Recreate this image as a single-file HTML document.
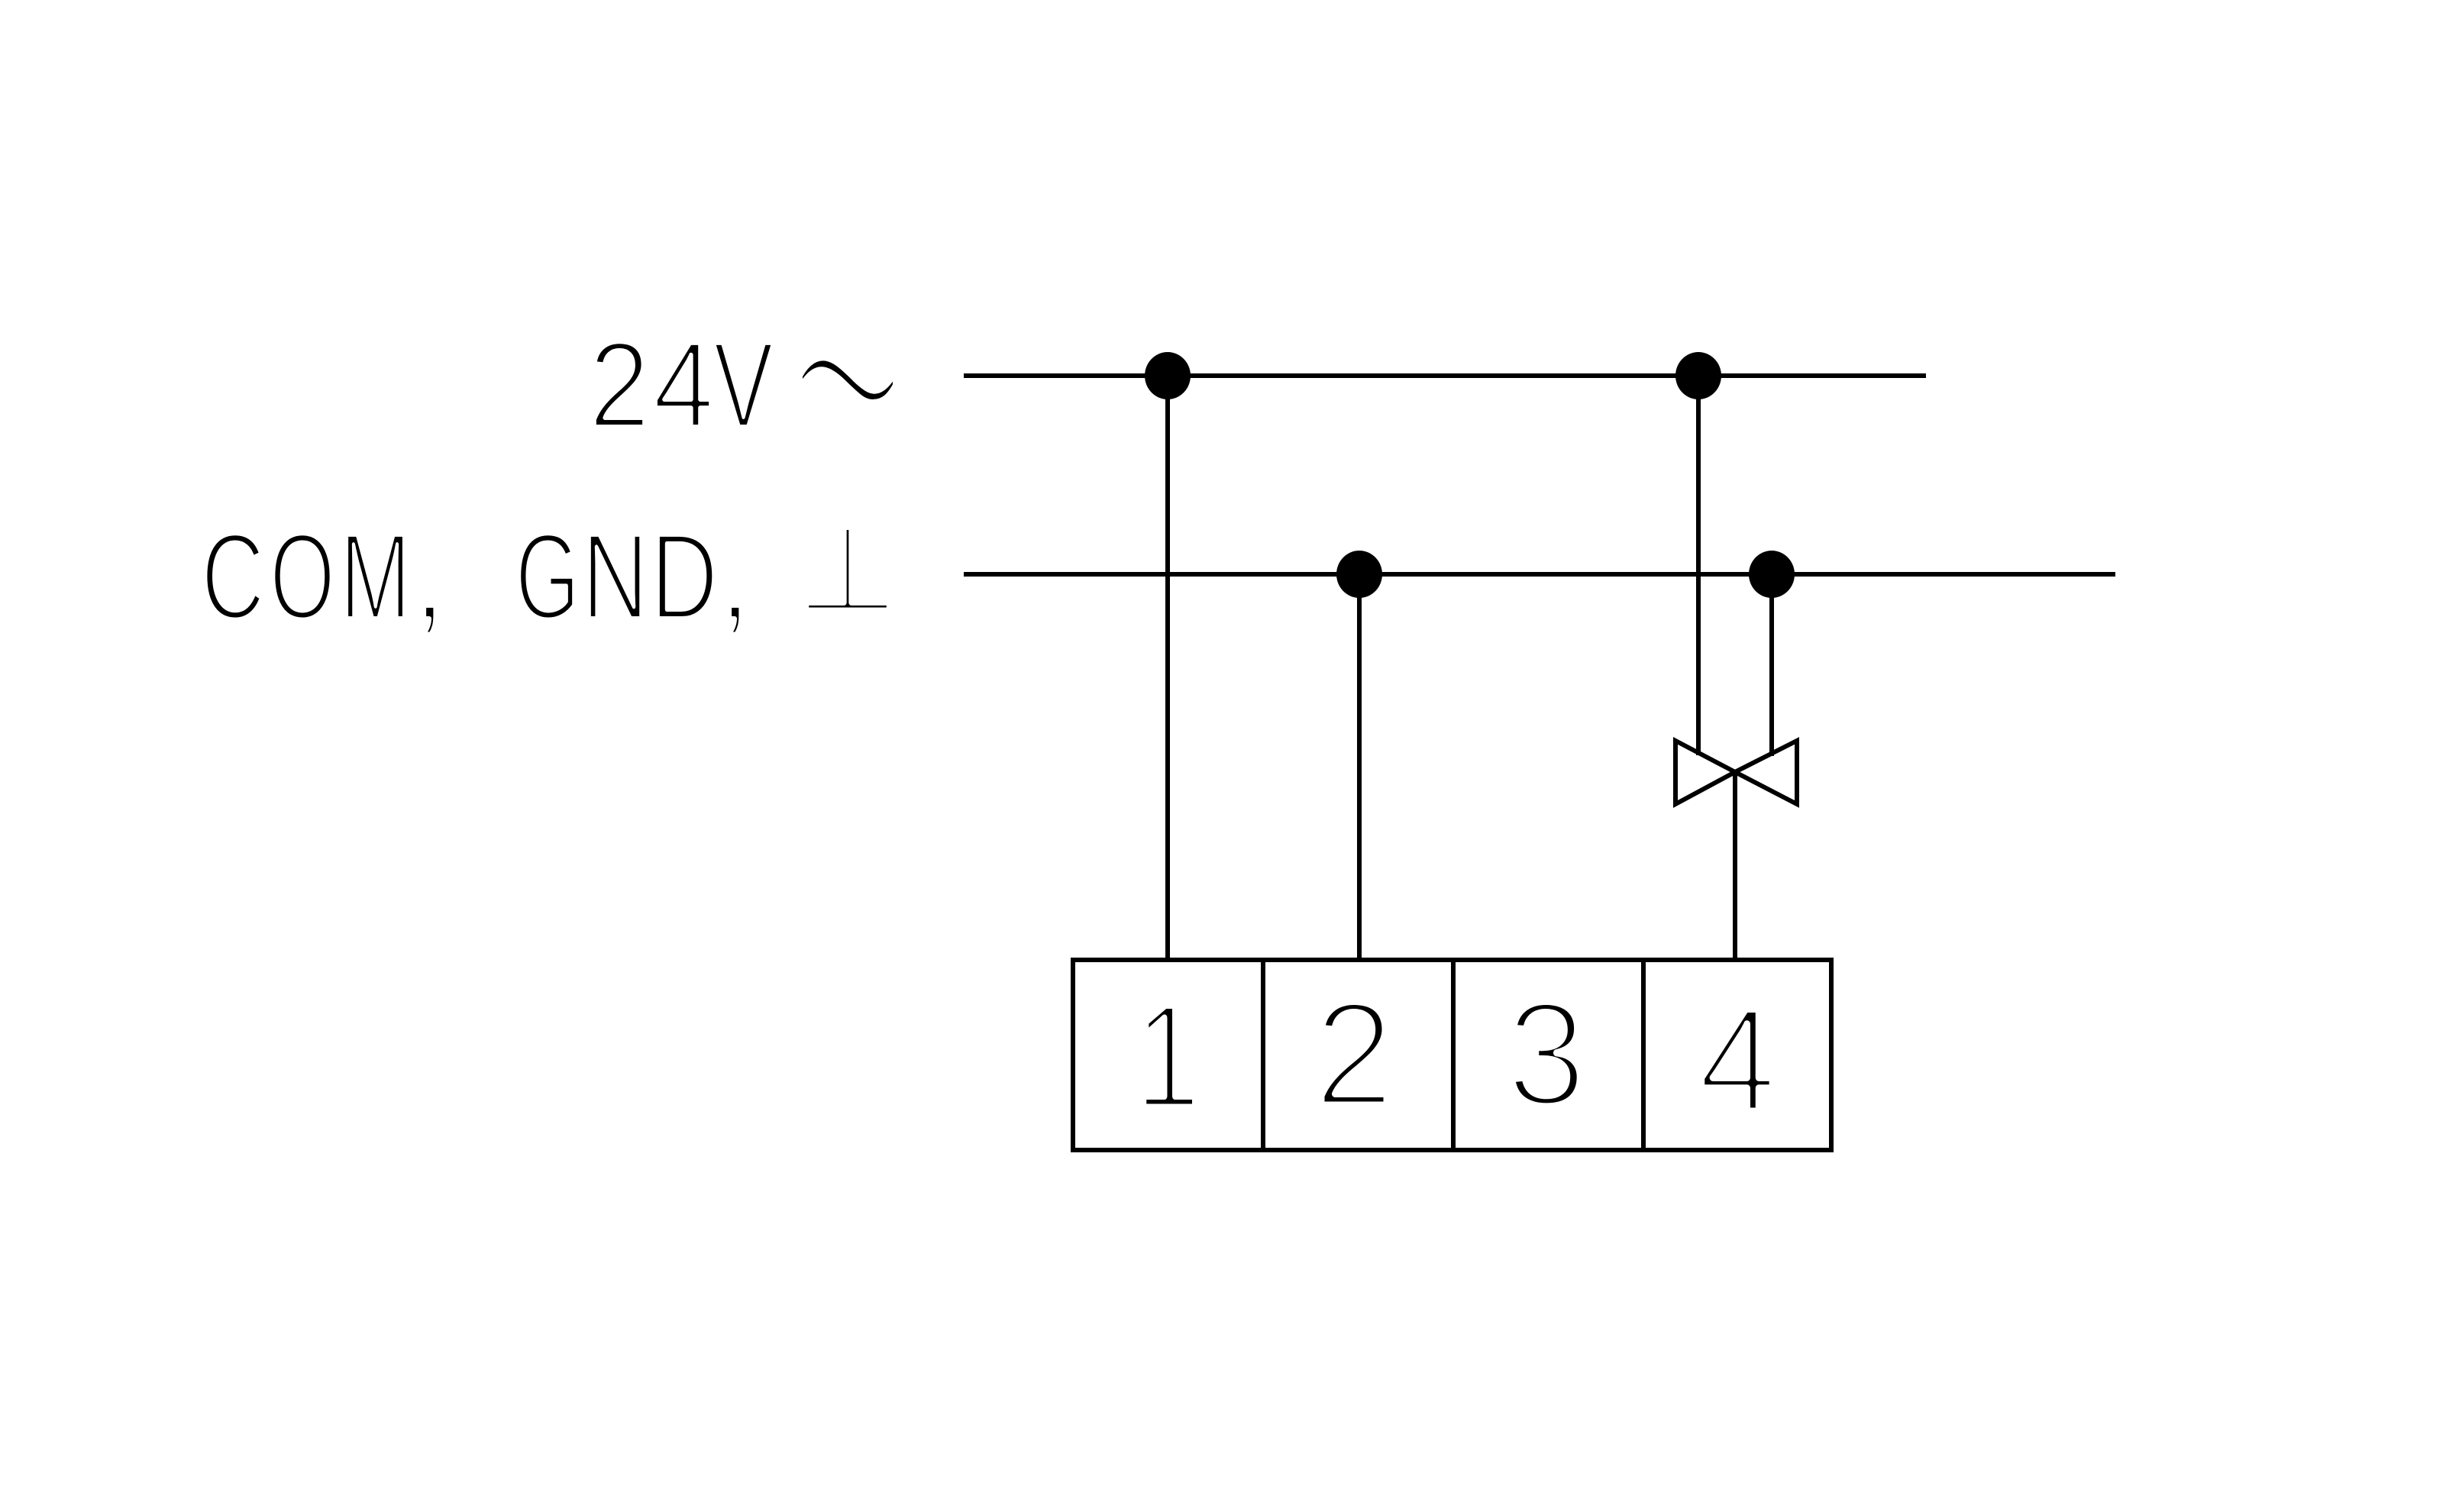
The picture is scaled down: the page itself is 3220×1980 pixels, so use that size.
<!DOCTYPE html>
<html>
<head>
<meta charset="utf-8">
<style>
  html, body { margin: 0; padding: 0; background: #ffffff; }
  svg { display: block; }
  .t { font-family: "Liberation Sans", "DejaVu Sans", sans-serif; fill: #000; stroke: #fff; stroke-linejoin: round; }
  .m { font-family: "DejaVu Sans", "Liberation Sans", sans-serif; fill: #000; stroke: #fff; stroke-linejoin: round; }
</style>
</head>
<body>
<svg width="3220" height="1980" viewBox="0 0 3220 1980" xmlns="http://www.w3.org/2000/svg">
  <rect x="0" y="0" width="3220" height="1980" fill="#ffffff"/>

  <!-- bus lines -->
  <g stroke="#000" stroke-width="6" fill="none" stroke-linecap="square">
    <line x1="1265" y1="492" x2="2519" y2="492"/>
    <line x1="1265" y1="752" x2="2767" y2="752"/>
    <!-- verticals -->
    <line x1="1529" y1="492" x2="1529" y2="1257"/>
    <line x1="1780" y1="752" x2="1780" y2="1257"/>
    <line x1="2224" y1="492" x2="2224" y2="986"/>
    <line x1="2320" y1="752" x2="2320" y2="987"/>
    <line x1="2272" y1="1011" x2="2272" y2="1257"/>
  </g>

  <!-- valve symbol -->
  <g stroke="#000" stroke-width="6" fill="none" stroke-linejoin="miter">
    <polygon points="2194,970 2272,1011 2194,1053"/>
    <polygon points="2353,970 2272,1011 2353,1053"/>
  </g>

  <!-- junction dots -->
  <g fill="#000">
    <ellipse cx="1529" cy="492" rx="30" ry="31"/>
    <ellipse cx="2224" cy="492" rx="30" ry="31"/>
    <ellipse cx="1780" cy="752" rx="30" ry="31"/>
    <ellipse cx="2320" cy="752" rx="30" ry="31"/>
  </g>

  <!-- terminal block -->
  <g stroke="#000" stroke-width="6" fill="none">
    <rect x="1405" y="1257" width="993" height="249"/>
    <line x1="1654" y1="1257" x2="1654" y2="1506"/>
    <line x1="1903" y1="1257" x2="1903" y2="1506"/>
    <line x1="2152" y1="1257" x2="2152" y2="1506"/>
  </g>

  <!-- terminal numbers -->
  <g class="t" font-size="194" stroke-width="9" text-anchor="middle">
    <text transform="translate(1529,1450) scale(0.8,1)" x="0" y="0">1</text>
    <text transform="translate(1773,1447) scale(0.97,1)" x="0" y="0">2</text>
    <text transform="translate(2025,1447) scale(0.97,1)" x="0" y="0">3</text>
    <text transform="translate(2275,1455) scale(0.95,1)" x="0" y="0">4</text>
  </g>

  <!-- 24V ~ label -->
  <g class="t" font-size="160" stroke-width="6" text-anchor="middle">
    <text transform="translate(811,559) scale(0.9,1)" x="0" y="0">2</text>
    <text transform="translate(895,559) scale(0.9,1)" x="0" y="0">4</text>
    <text transform="translate(973.5,559) scale(0.74,1)" x="0" y="0">V</text>
  </g>
  <text class="t" font-size="200" stroke-width="11.5" text-anchor="middle" transform="translate(1110,750) scale(1.35,3.8)" x="0" y="0">~</text>

  <!-- COM, GND, ⊥ label -->
  <g class="t" font-size="160" stroke-width="6" text-anchor="middle">
    <text transform="translate(305,810) scale(0.72,1)" x="0" y="0">C</text>
    <text transform="translate(396,810) scale(0.69,1)" x="0" y="0">O</text>
    <text transform="translate(491.5,810) scale(0.7,1)" x="0" y="0">M</text>
    <text transform="translate(562.5,810) scale(1,1)" x="0" y="0">,</text>
    <text transform="translate(717,810) scale(0.68,1)" x="0" y="0">G</text>
    <text transform="translate(805.5,810) scale(0.76,1)" x="0" y="0">N</text>
    <text transform="translate(896,810) scale(0.77,1)" x="0" y="0">D</text>
    <text transform="translate(962.5,810) scale(1,1)" x="0" y="0">,</text>
  </g>
  <text class="m" font-size="155" stroke-width="7" text-anchor="middle" transform="translate(1110,799)" x="0" y="0">⊥</text>
</svg>
</body>
</html>
